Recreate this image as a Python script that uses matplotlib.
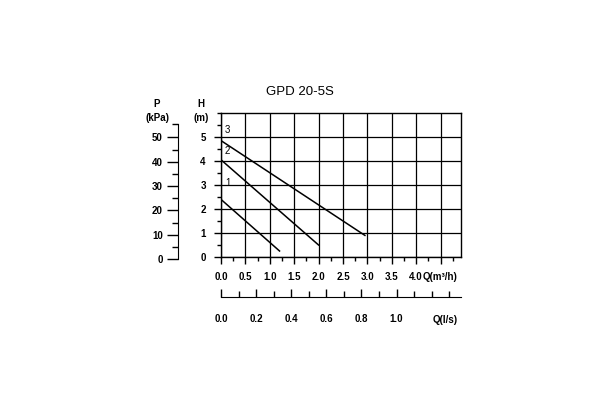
import numpy as np
import matplotlib.pyplot as plt
from matplotlib.ticker import MultipleLocator, FixedLocator

# pump curves, Q in m3/h, H in m
q_curve1 = [0.0, 1.2]
h_curve1 = [2.4, 0.25]
q_curve2 = [0.0, 2.0]
h_curve2 = [4.05, 0.5]
q_curve3 = [0.0, 2.95]
h_curve3 = [4.85, 0.9]
curve_labels = ["1", "2", "3"]
label_h = [3.1, 4.4, 5.3]

q_ticks = [0.0, 0.5, 1.0, 1.5, 2.0, 2.5, 3.0, 3.5, 4.0]
ls_ticks = [0.0, 0.2, 0.4, 0.6, 0.8, 1.0]
p_ticks = [0, 10, 20, 30, 40, 50]

plt.rcParams['font.family'] = ['Liberation Sans', 'DejaVu Sans']
fs = 7
fig = plt.figure(figsize=(6, 4), dpi=100)

QMAX = 4.92
ax = fig.add_axes([221/600, 143/400, 240/600, 144/400])
ax.set_xlim(0, QMAX)
ax.set_ylim(0, 6)
ax.xaxis.set_minor_locator(MultipleLocator(0.25))
ax.yaxis.set_minor_locator(MultipleLocator(0.5))
ax.grid(True, which='major', color='black', lw=0.9)
for s in ax.spines.values():
    s.set_linewidth(1.0)
ax.tick_params(which='major', direction='out', length=5, width=1, labelsize=fs, pad=6)
ax.tick_params(which='minor', direction='out', length=3, width=1)
ax.set_xticks(q_ticks + [4.5])
ax.set_xticklabels([f"{v:.1f}" for v in q_ticks] + ["Q(m³/h)"], fontweight='bold')
ax.set_yticks(range(0, 6))
ax.set_yticklabels([str(v) for v in range(0, 6)], fontweight='bold')

for q, h in [(q_curve1, h_curve1), (q_curve2, h_curve2), (q_curve3, h_curve3)]:
    ax.plot(q, h, color='black', lw=1.1)
for lab, hy in zip(curve_labels, label_h):
    ax.text(0.08, hy, lab, fontsize=fs, ha='left', va='center')

fig.text(300/600, 1 - 92/400, "GPD 20-5S", fontsize=9.5, ha='center', va='center')
fig.text(201/600, 1 - 104/400, "H", fontsize=fs, ha='center', va='center', fontweight='bold')
fig.text(201/600, 1 - 118/400, "(m)", fontsize=fs, ha='center', va='center', fontweight='bold')
fig.text(157/600, 1 - 104/400, "P", fontsize=fs, ha='center', va='center', fontweight='bold')
fig.text(157/600, 1 - 118/400, "(kPa)", fontsize=fs, ha='center', va='center', fontweight='bold')

# pressure axis
axp = fig.add_axes([178/600, 141/400, 0.001, 146/400])
axp.set_ylim(0, 60)
axp.set_xticks([])
for k in ['top', 'right', 'bottom']:
    axp.spines[k].set_visible(False)
axp.spines['left'].set_bounds(0, 55.5)
axp.patch.set_visible(False)
axp.yaxis.set_major_locator(FixedLocator(p_ticks))
axp.yaxis.set_minor_locator(FixedLocator([5, 15, 25, 35, 45, 55.5]))
axp.set_yticklabels([str(v) for v in p_ticks], fontweight='bold')
axp.tick_params(which='major', direction='out', length=8, width=1, labelsize=fs, pad=3)
axp.tick_params(which='minor', direction='out', length=4, width=1)

# flow axis in l/s
axl = fig.add_axes([221/600, 103/400, 240/600, 0.001])
axl.set_xlim(0, QMAX / 3.6)
axl.set_yticks([])
for k in ['top', 'right', 'left']:
    axl.spines[k].set_visible(False)
axl.patch.set_visible(False)
axl.xaxis.set_major_locator(FixedLocator(ls_ticks))
axl.set_xticklabels([f"{v:.1f}" for v in ls_ticks], fontweight='bold')
axl.xaxis.set_minor_locator(MultipleLocator(0.1))
axl.tick_params(which='major', direction='in', length=6, width=1, labelsize=fs, pad=12)
axl.tick_params(which='minor', direction='in', length=4, width=1)
fig.text(445/600, 1 - 320/400, "Q(l/s)", fontsize=fs, ha='center', va='center', fontweight='bold')

fig.savefig("out.png", dpi=100)
